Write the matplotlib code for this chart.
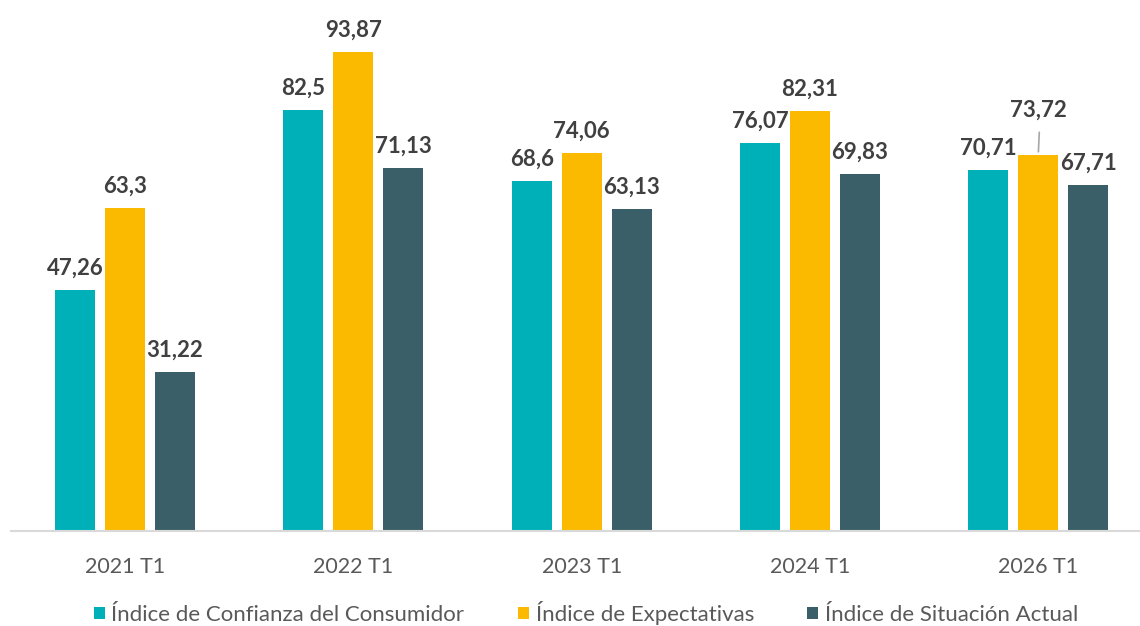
import matplotlib
matplotlib.use("Agg")
import matplotlib.pyplot as plt
import numpy as np

categories = ["2021 T1", "2022 T1", "2023 T1", "2024 T1", "2026 T1"]
series_names = ["Índice de Confianza del Consumidor", "Índice de Expectativas", "Índice de Situación Actual"]
confianza = [47.26, 82.5, 68.6, 76.07, 70.71]
expectativas = [63.3, 93.87, 74.06, 82.31, 73.72]
situacion = [31.22, 71.13, 63.13, 69.83, 67.71]
labels_conf = ["47,26", "82,5", "68,6", "76,07", "70,71"]
labels_exp = ["63,3", "93,87", "74,06", "82,31", "73,72"]
labels_sit = ["31,22", "71,13", "63,13", "69,83", "67,71"]

colors = ["#00B0B9", "#FBBA00", "#3B5F69"]
plt.rcParams['font.family'] = ['Lato', 'DejaVu Sans']

fig = plt.figure(figsize=(11.4, 6.26), dpi=100)
ax = fig.add_axes([0.0096, 0.1518, 1.0013, 0.832])

x = np.arange(len(categories))
w = 0.175
step = 0.219
data = [confianza, expectativas, situacion]
labs = [labels_conf, labels_exp, labels_sit]
for i, (vals, lab, c, name) in enumerate(zip(data, labs, colors, series_names)):
    pos = x + (i - 1) * step
    ax.bar(pos, vals, width=w, color=c, label=name, zorder=2)
    for j, (p, v, t) in enumerate(zip(pos, vals, lab)):
        if i == 1 and j == 4:
            ax.annotate(t, xy=(p, v), xytext=(0, 27), textcoords="offset points",
                        ha="center", va="baseline", fontsize=16, fontweight="bold",
                        color="#404040")
            ax.annotate("", xy=(p, v), xytext=(p + 0.005, v + 4.9),
                        arrowprops=dict(arrowstyle="-", color="#A6A6A6", lw=1.2))
        else:
            ax.annotate(t, xy=(p, v), xytext=(0, 11), textcoords="offset points",
                        ha="center", va="baseline", fontsize=16, fontweight="bold",
                        color="#404040")

ax.set_xlim(-0.5, len(categories) - 0.5)
ax.set_ylim(0, 102)
ax.set_xticks(x)
ax.set_xticklabels(categories, fontsize=15.5, color="#595959")
ax.tick_params(axis="x", length=0, pad=19)
ax.set_yticks([])
for s in ["top", "right", "left"]:
    ax.spines[s].set_visible(False)
ax.spines["bottom"].set_color("#D9D9D9")
ax.spines["bottom"].set_linewidth(1.5)

leg = fig.legend(loc="center", bbox_to_anchor=(0.514, 0.021), ncol=3, frameon=False,
                 fontsize=16, handlelength=0.5, handleheight=0.5, handletextpad=0.3,
                 columnspacing=2.4, borderpad=0, borderaxespad=0)
for t in leg.get_texts():
    t.set_color("#595959")

fig.savefig("out.png", dpi=100)
